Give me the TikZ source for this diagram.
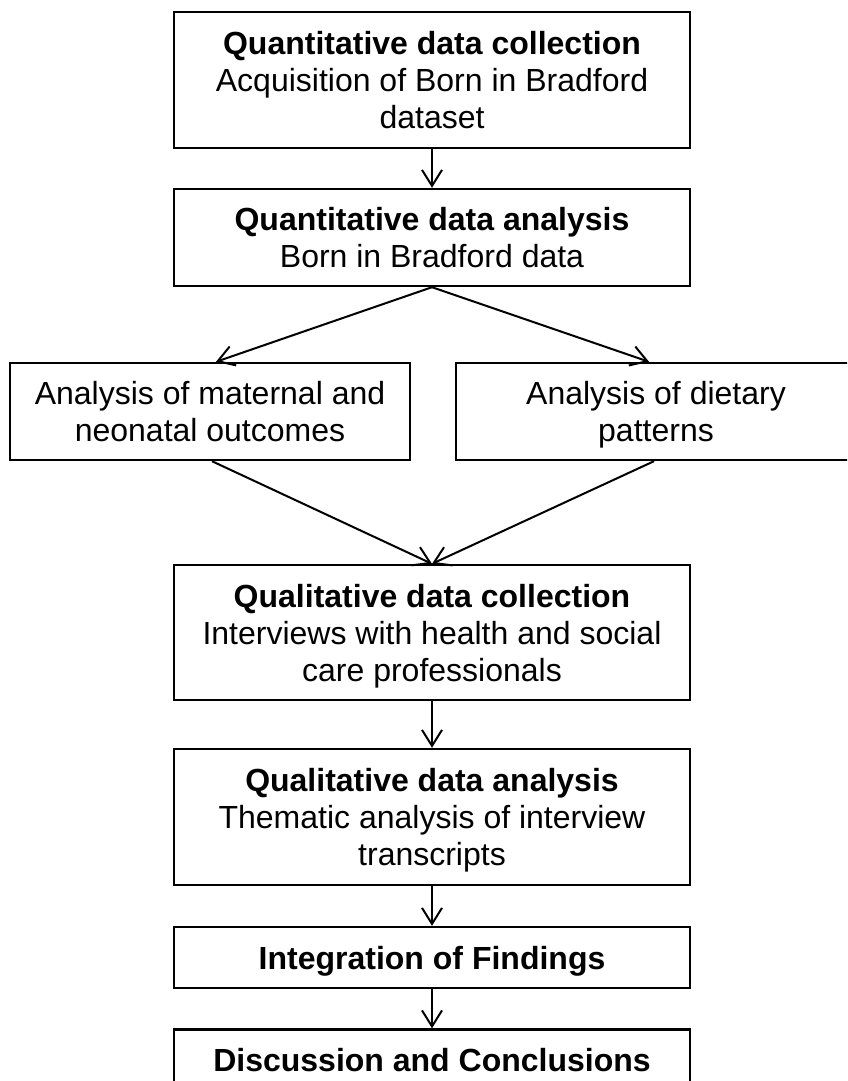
\documentclass[tikz,border=0pt]{standalone}
\usepackage{fontspec}
\setmainfont{Liberation Sans}
\usetikzlibrary{arrows.meta}
\tikzset{
  stagebox/.style={draw=black, line width=1.2pt, align=center, inner sep=0pt,
    minimum width=258pt, font=\fontsize{16pt}{18.5pt}\selectfont, text depth=0pt},
  sidebox/.style={stagebox, minimum width=200pt},
  flowarrow/.style={line width=1pt, -{Straight Barb[length=8pt,width=10pt]}},
}

\begin{document}
\begin{tikzpicture}[x=0.5pt, y=-0.5pt]
			%%%%% START %%%%%
			\useasboundingbox (0, 0) rectangle (847, 1081);
			\clip (0, 0) rectangle (847, 1081);
			
			\node[stagebox, minimum height=68pt] (qncoll) at (432, 80)
				{\textbf{Quantitative data collection}\\Acquisition of Born in Bradford\\dataset};
			\node[stagebox, minimum height=48.5pt] (qnanal) at (432, 237.5)
				{\textbf{Quantitative data analysis}\\Born in Bradford data};
			
			\node[sidebox, minimum height=48.5pt] (outcomes) at (210, 411.5)
				{Analysis of maternal and\\neonatal outcomes};
			\node[sidebox, minimum height=48.5pt] (dietary) at (656, 411.5)
				{Analysis of dietary\\patterns};
			
			\node[stagebox, minimum height=67.5pt] (qlcoll) at (432, 632.5)
				{\textbf{Qualitative data collection}\\Interviews with health and social\\care professionals};
			\node[stagebox, minimum height=68pt] (qlanal) at (432, 817)
				{\textbf{Qualitative data analysis}\\Thematic analysis of interview\\transcripts};
			\node[stagebox, minimum height=30.5pt] (integr) at (432, 957.5)
				{\textbf{Integration of Findings}};
			\node[stagebox, minimum height=30.5pt] (discuss) at (432, 1060)
				{\textbf{Discussion and Conclusions}};
			
			\draw[flowarrow] (qncoll) -- (qnanal);
			\draw[flowarrow] (qnanal.south) -- ([xshift=3pt]outcomes.north);
			\draw[flowarrow] (qnanal.south) -- ([xshift=-3.5pt]dietary.north);
			\draw[flowarrow] ([xshift=1pt]outcomes.south) -- (qlcoll.north);
			\draw[flowarrow] ([xshift=-1pt]dietary.south) -- (qlcoll.north);
			\draw[flowarrow] (qlcoll) -- (qlanal);
			\draw[flowarrow] (qlanal) -- (integr);
			\draw[flowarrow] (integr) -- (discuss);
			
			%%%%% END %%%%%
\end{tikzpicture}
\end{document}
